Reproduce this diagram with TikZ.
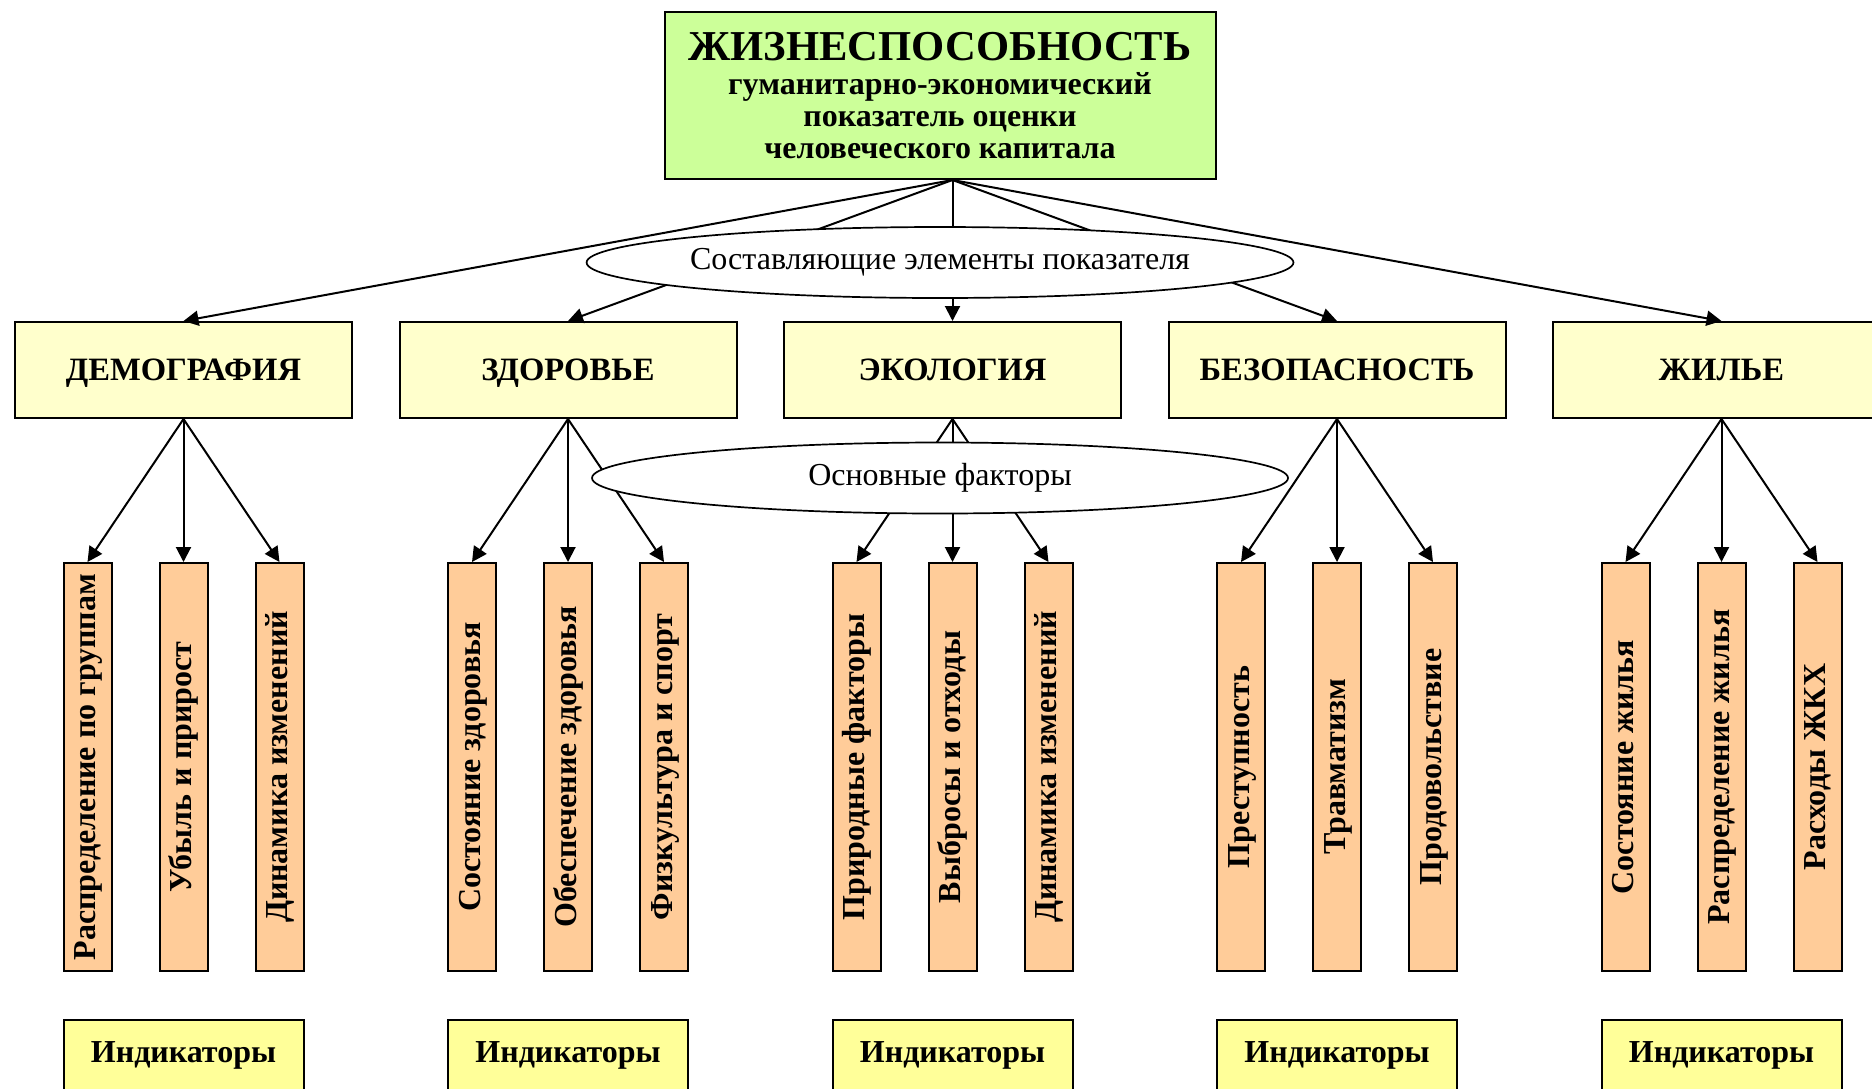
\documentclass[tikz,border=0pt]{standalone}
\usepackage{fontspec}
\setmainfont{Liberation Serif}
\usetikzlibrary{positioning,arrows.meta,shapes.geometric,calc}
\definecolor{headgreen}{HTML}{CCFF99}
\definecolor{catyellow}{HTML}{FFFFCC}
\definecolor{facpeach}{HTML}{FFCC99}
\definecolor{indyellow}{HTML}{FFFF99}
\tikzset{
headbox/.style={
draw,
line width=1pt,
fill=headgreen,
minimum width=275.5pt,
minimum height=83.5pt,
align=center,
font=\fontsize{16}{16}\selectfont\bfseries
},
catbox/.style={
draw,
line width=1pt,
fill=catyellow,
minimum width=168.5pt,
minimum height=48pt,
text height=10.8pt,
text depth=0pt,
font=\fontsize{16.3}{18}\selectfont\bfseries
},
facbox/.style={
draw,
line width=1pt,
fill=facpeach,
rotate=90,
minimum width=204pt,
minimum height=24pt,
inner sep=1pt,
text height=11pt,
text depth=3pt,
font=\fontsize{16}{18}\selectfont\bfseries
},
indbox/.style={
draw,
line width=1pt,
fill=indyellow,
anchor=north,
minimum width=120pt,
inner sep=0pt,
text height=21pt,
text depth=40pt,
font=\fontsize{16}{19}\selectfont\bfseries
},
oval/.style={
draw,
ellipse,
line width=0.85pt,
fill=white,
minimum width=348pt,
minimum height=35.5pt,
inner sep=0pt,
font=\fontsize{16}{19}\selectfont
},
arrow/.style={
-{Triangle[length=7.5pt,width=7.5pt]},
line width=1pt
}
}
\begin{document}
\begin{tikzpicture}[x=0.5pt,y=-0.5pt,node distance=22.75pt]
\clip (0,0) rectangle (1872,1088);
\node[headbox](head) at (940,95.5){{\fontsize{21.3}{24}\selectfont ЖИЗНЕСПОСОБНОСТЬ}\\[1pt]гуманитарно-экономический\\показатель оценки\\человеческого капитала};

\node[catbox](dem) at (183.5,370){ДЕМОГРАФИЯ};
\node[catbox,right=of dem](zdr){ЗДОРОВЬЕ};
\node[catbox,right=of zdr](eco){ЭКОЛОГИЯ};
\node[catbox,right=of eco](bez){БЕЗОПАСНОСТЬ};
\node[catbox,right=of bez](zhl){ЖИЛЬЕ};

\coordinate(facrow) at (0,767);
\coordinate(indrow) at (0,1019);

% factors
\node[facbox](d1) at ($(dem|-facrow)+(-96,0)$){Распределение по группам};
\node[facbox](d2) at (dem|-facrow){Убыль и прирост};
\node[facbox](d3) at ($(dem|-facrow)+(96,0)$){Динамика изменений};
\node[facbox](z1) at ($(zdr|-facrow)+(-96,0)$){Состояние здоровья};
\node[facbox](z2) at (zdr|-facrow){Обеспечение здоровья};
\node[facbox](z3) at ($(zdr|-facrow)+(96,0)$){Физкультура и спорт};
\node[facbox](e1) at ($(eco|-facrow)+(-96,0)$){Природные факторы};
\node[facbox](e2) at (eco|-facrow){Выбросы и отходы};
\node[facbox](e3) at ($(eco|-facrow)+(96,0)$){Динамика изменений};
\node[facbox](b1) at ($(bez|-facrow)+(-96,0)$){Преступность};
\node[facbox](b2) at (bez|-facrow){Травматизм};
\node[facbox](b3) at ($(bez|-facrow)+(96,0)$){Продовольствие};
\node[facbox](h1) at ($(zhl|-facrow)+(-96,0)$){Состояние жилья};
\node[facbox](h2) at (zhl|-facrow){Распределение жилья};
\node[facbox](h3) at ($(zhl|-facrow)+(96,0)$){Расходы ЖКХ};

% indicators
\node[indbox](ind1) at (dem|-indrow){Индикаторы};
\node[indbox](ind2) at (zdr|-indrow){Индикаторы};
\node[indbox](ind3) at (eco|-indrow){Индикаторы};
\node[indbox](ind4) at (bez|-indrow){Индикаторы};
\node[indbox](ind5) at (zhl|-indrow){Индикаторы};

\coordinate(apex) at (head.south-|eco);
\draw[arrow](apex)--(dem.north);
\draw[arrow](apex)--(zdr.north);
\draw[arrow](apex)--(eco.north);
\draw[arrow](apex)--(bez.north);
\draw[arrow](apex)--(zhl.north);

\draw[arrow](dem.south)--(d1.east);
\draw[arrow](dem.south)--(d2.east);
\draw[arrow](dem.south)--(d3.east);
\draw[arrow](zdr.south)--(z1.east);
\draw[arrow](zdr.south)--(z2.east);
\draw[arrow](zdr.south)--(z3.east);
\draw[arrow](eco.south)--(e1.east);
\draw[arrow](eco.south)--(e2.east);
\draw[arrow](eco.south)--(e3.east);
\draw[arrow](bez.south)--(b1.east);
\draw[arrow](bez.south)--(b2.east);
\draw[arrow](bez.south)--(b3.east);
\draw[arrow](zhl.south)--(h1.east);
\draw[arrow](zhl.south)--(h2.east);
\draw[arrow](zhl.south)--(h3.east);

\node[oval](parts) at (head.south|-0,262.5){Составляющие элементы показателя};
\node[oval](factors) at (head.south|-0,478){Основные факторы};
\end{tikzpicture}
\end{document}
